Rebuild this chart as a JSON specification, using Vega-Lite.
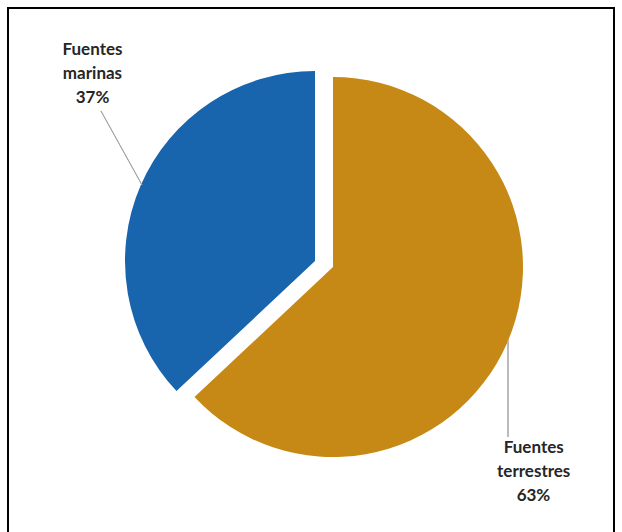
{
  "$schema": "https://vega.github.io/schema/vega-lite/v6.json",
  "width": 606,
  "height": 540,
  "autosize": {"type": "none"},
  "padding": {"left": 8, "top": 8, "right": 8, "bottom": 0},
  "background": "white",
  "config": {"view": {"stroke": null}},
  "data": {"values": [
    {"name": "Fuentes terrestres", "share": 0.63},
    {"name": "Fuentes marinas", "share": 0.37}
  ]},
  "transform": [
    {"stack": "share", "groupby": [], "sort": [{"field": "share", "order": "descending"}], "as": ["s0", "s1"]}
  ],
  "layer": [
    {
      "transform": [{"filter": "datum.name === 'Fuentes terrestres'"}],
      "mark": {"type": "rect", "fillOpacity": 0, "stroke": "#000000", "strokeWidth": 2},
      "encoding": {}
    },
    {
      "transform": [{"filter": "datum.name === 'Fuentes terrestres'"}],
      "mark": {"type": "arc", "radius": 190, "xOffset": 22, "yOffset": -11},
      "encoding": {
        "theta": {"field": "s0", "type": "quantitative", "stack": null, "scale": {"domain": [0, 1]}},
        "theta2": {"field": "s1"},
        "color": {"field": "name", "type": "nominal", "legend": null,
          "scale": {"domain": ["Fuentes terrestres", "Fuentes marinas"], "range": ["#C68915", "#1864AD"]}}
      }
    },
    {
      "transform": [{"filter": "datum.name === 'Fuentes marinas'"}],
      "mark": {"type": "arc", "radius": 190, "xOffset": 4, "yOffset": -17},
      "encoding": {
        "theta": {"field": "s0", "type": "quantitative", "stack": null, "scale": {"domain": [0, 1]}},
        "theta2": {"field": "s1"},
        "color": {"field": "name", "type": "nominal", "legend": null,
          "scale": {"domain": ["Fuentes terrestres", "Fuentes marinas"], "range": ["#C68915", "#1864AD"]}}
      }
    },
    {
      "transform": [{"filter": "datum.name === 'Fuentes marinas'"}],
      "mark": {"type": "arc", "radius": 84.6, "radius2": 0, "thetaOffset": -0.506, "theta2Offset": -0.506,
        "xOffset": -169, "yOffset": -93, "fillOpacity": 0, "stroke": "#A6A6A6", "strokeWidth": 1},
      "encoding": {
        "theta": {"field": "s1", "type": "quantitative", "stack": null, "scale": {"domain": [0, 1]}},
        "theta2": {"field": "s1"}
      }
    },
    {
      "transform": [{"filter": "datum.name === 'Fuentes terrestres'"}],
      "mark": {"type": "arc", "radius": 97, "radius2": 0, "thetaOffset": 3.1416, "theta2Offset": 3.1416,
        "xOffset": 197, "yOffset": 62, "fillOpacity": 0, "stroke": "#A6A6A6", "strokeWidth": 1},
      "encoding": {
        "theta": {"field": "s0", "type": "quantitative", "stack": null, "scale": {"domain": [0, 1]}},
        "theta2": {"field": "s0"}
      }
    },
    {
      "transform": [{"filter": "datum.name === 'Fuentes marinas'"}],
      "mark": {"type": "text", "radius": 139.1, "thetaOffset": -0.364, "xOffset": -169, "yOffset": -93,
        "align": "center", "baseline": "alphabetic", "lineBreak": " ", "lineHeight": 24,
        "font": "Lato", "fontWeight": "bold", "fontSize": 17, "color": "#262626"},
      "encoding": {
        "theta": {"field": "s1", "type": "quantitative", "scale": {"domain": [0, 1]}},
        "text": {"field": "name"}
      }
    },
    {
      "transform": [{"filter": "datum.name === 'Fuentes marinas'"}],
      "mark": {"type": "text", "radius": 95.5, "thetaOffset": -0.545, "xOffset": -169, "yOffset": -93,
        "align": "center", "baseline": "alphabetic",
        "font": "Lato", "fontWeight": "bold", "fontSize": 17, "color": "#262626"},
      "encoding": {
        "theta": {"field": "s1", "type": "quantitative", "scale": {"domain": [0, 1]}},
        "text": {"field": "share", "type": "quantitative", "format": ".0%"}
      }
    },
    {
      "transform": [{"filter": "datum.name === 'Fuentes terrestres'"}],
      "mark": {"type": "text", "radius": 115.9, "thetaOffset": 2.918, "xOffset": 197, "yOffset": 62,
        "align": "center", "baseline": "alphabetic", "lineBreak": " ", "lineHeight": 24,
        "font": "Lato", "fontWeight": "bold", "fontSize": 17, "color": "#262626"},
      "encoding": {
        "theta": {"field": "s0", "type": "quantitative", "scale": {"domain": [0, 1]}},
        "text": {"field": "name"}
      }
    },
    {
      "transform": [{"filter": "datum.name === 'Fuentes terrestres'"}],
      "mark": {"type": "text", "radius": 163.4, "thetaOffset": 2.985, "xOffset": 197, "yOffset": 62,
        "align": "center", "baseline": "alphabetic",
        "font": "Lato", "fontWeight": "bold", "fontSize": 17, "color": "#262626"},
      "encoding": {
        "theta": {"field": "s0", "type": "quantitative", "scale": {"domain": [0, 1]}},
        "text": {"field": "share", "type": "quantitative", "format": ".0%"}
      }
    }
  ]
}
